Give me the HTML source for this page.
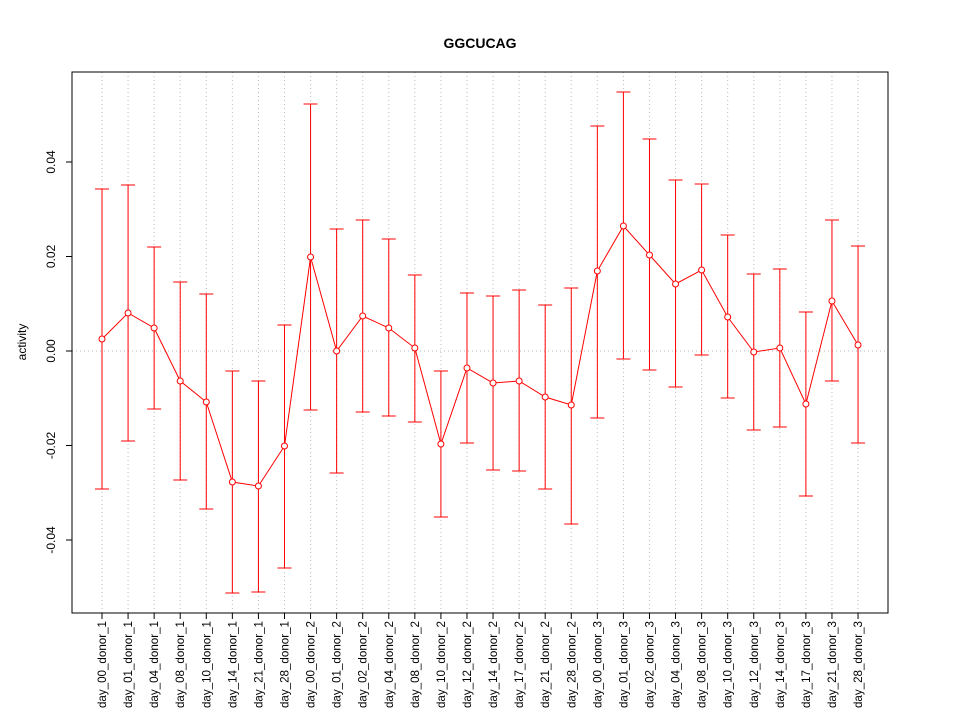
<!DOCTYPE html>
<html><head><meta charset="utf-8"><style>
html,body{margin:0;padding:0;background:#fff;}
svg{display:block;font-family:"Liberation Sans",sans-serif;}
</style></head><body>
<svg id="s" width="960" height="720" xmlns="http://www.w3.org/2000/svg">
<rect width="960" height="720" fill="#fff"/>
<text x="480" y="48" text-anchor="middle" font-size="14" font-weight="bold">GGCUCAG</text>
<text transform="translate(26,342) rotate(-90)" text-anchor="middle" font-size="12">activity</text>
<g id="g"></g>
<rect x="72" y="72" width="816" height="541" fill="none" stroke="#000" stroke-width="1"/>
</svg>
<script>
var d=[[339,189,489],[313,185,441],[328,247,409],[381,282,480],[402,294,509],[482,371,593],[486,381,592],[446,325,568],[257,104,410],[351,229,473],[316,220,412],[328,239,416],[348,275,422],[444,371,517],[368,293,443],[383,296,470],[381,290,471],[397,305,489],[405,288,524],[271,126,418],[226,92,359],[255,139,370],[284,180,387],[270,184,355],[317,235,398],[352,274,430],[348,269,427],[404,312,496],[301,220,381],[345,246,443]];
var names=[];["00","01","04","08","10","14","21","28"].forEach(function(x){names.push("day_"+x+"_donor_1")});
["00","01","02","04","08","10","12","14","17","21","28"].forEach(function(x){names.push("day_"+x+"_donor_2")});
["00","01","02","04","08","10","12","14","17","21","28"].forEach(function(x){names.push("day_"+x+"_donor_3")});
var h='';
function X(i){return 102+i*26.07;}
for(var i=0;i<30;i++){h+='<line x1="'+X(i)+'" y1="72" x2="'+X(i)+'" y2="613" stroke="#bbb" stroke-dasharray="1,3"/>';}
h+='<line x1="72" y1="351" x2="888" y2="351" stroke="#bbb" stroke-dasharray="1,3"/>';
var yt=[[162,"0.04"],[256.5,"0.02"],[351,"0.00"],[445.5,"-0.02"],[540,"-0.04"]];
yt.forEach(function(t){h+='<line x1="66" y1="'+t[0]+'" x2="72" y2="'+t[0]+'" stroke="#000"/><text transform="translate(55,'+t[0]+') rotate(-90)" text-anchor="middle" font-size="12">'+t[1]+'</text>';});
var p='';
for(var i=0;i<30;i++){var x=X(i),a=d[i];
h+='<line x1="'+x+'" y1="'+a[1]+'" x2="'+x+'" y2="'+a[2]+'" stroke="red"/>';
h+='<line x1="'+(x-7)+'" y1="'+a[1]+'" x2="'+(x+7)+'" y2="'+a[1]+'" stroke="red"/>';
h+='<line x1="'+(x-7)+'" y1="'+a[2]+'" x2="'+(x+7)+'" y2="'+a[2]+'" stroke="red"/>';
p+=(i?'L':'M')+x+','+a[0];
h+='<line x1="'+x+'" y1="613" x2="'+x+'" y2="619" stroke="#000"/>';
h+='<text transform="translate('+(x+4)+',621) rotate(-90)" text-anchor="end" font-size="11.6">'+names[i]+'</text>';}
h+='<path d="'+p+'" fill="none" stroke="red"/>';
for(var i=0;i<30;i++){h+='<circle cx="'+X(i)+'" cy="'+d[i][0]+'" r="3" fill="#fff" stroke="red"/>';}
document.getElementById('g').innerHTML=h;
</script>
</body></html>
